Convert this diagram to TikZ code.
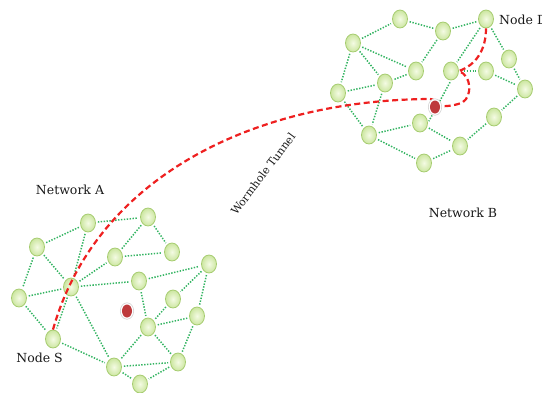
\documentclass[tikz,border=0pt]{standalone}
\usepackage{fontspec}
\setmainfont{DejaVu Serif}
\usetikzlibrary{shapes.geometric}
\definecolor{edgegreen}{HTML}{34B462}
\definecolor{nodein}{HTML}{F4FBE4}
\definecolor{nodeout}{HTML}{CCE6A0}
\definecolor{nodeborder}{HTML}{A6CC70}
\definecolor{wormred}{HTML}{EE2020}
\definecolor{dotred}{HTML}{BE3A3C}
\tikzset{
  nd/.style={ellipse, draw=nodeborder, line width=0.8pt, inner color=nodein, outer color=nodeout, minimum width=15pt, minimum height=18pt, inner sep=0pt},
  rdot/.style={ellipse, fill=dotred, minimum width=10pt, minimum height=13pt, inner sep=0pt,
    preaction={draw=black!18, line width=4pt}, preaction={draw=white, line width=2.6pt}},
  ed/.style={draw=edgegreen, line width=1.5pt, dash pattern=on 1.4pt off 1.5pt, shorten <=2pt, shorten >=2pt},
  wh/.style={draw=wormred, line width=2.2pt, dash pattern=on 6pt off 3.5pt},
  lbl/.style={font=\fontsize{12.5}{14}\selectfont, text=black!90, inner sep=0pt}
}
\begin{document}
\begin{tikzpicture}[x=1pt,y=-1pt]
\useasboundingbox (0,0) rectangle (542,392);
% Network A nodes
\node[nd] (A1) at (88,223) {};
\node[nd] (A2) at (148,217) {};
\node[nd] (A3) at (37,247) {};
\node[nd] (A4) at (115,257) {};
\node[nd] (A5) at (172,252) {};
\node[nd] (A6) at (71,287) {};
\node[nd] (A7) at (139,281) {};
\node[nd] (A8) at (209,264) {};
\node[nd] (A9) at (19,298) {};
\node[nd] (A10) at (173,299) {};
\node[nd] (A11) at (197,316) {};
\node[nd] (A12) at (148,327) {};
\node[nd] (S) at (53,339) {};
\node[nd] (A14) at (114,367) {};
\node[nd] (A15) at (178,362) {};
\node[nd] (A16) at (140,384) {};
% Network B nodes
\node[nd] (B1) at (400,19) {};
\node[nd] (D) at (486,19) {};
\node[nd] (B3) at (443,31) {};
\node[nd] (B4) at (353,43) {};
\node[nd] (B5) at (509,59) {};
\node[nd] (B6) at (416,71) {};
\node[nd] (B7) at (451,71) {};
\node[nd] (B8) at (486,71) {};
\node[nd] (B9) at (385,83) {};
\node[nd] (B10) at (338,93) {};
\node[nd] (B11) at (525,89) {};
\node[nd] (B13) at (420,123) {};
\node[nd] (B14) at (494,117) {};
\node[nd] (B15) at (369,135) {};
\node[nd] (B16) at (460,146) {};
\node[nd] (B17) at (424,163) {};
% Network A edges
\foreach \a/\b in {A3/A1, A1/A2, A3/A9, A3/A6, A1/A6, A9/A6, A9/S, A6/S, A2/A4, A2/A5, A4/A5, A6/A4, A6/A7, A7/A8, A8/A10, A10/A12, A7/A12, A8/A11, A12/A11, A11/A15, A12/A15, A12/A14, A14/A15, A6/A14, S/A14, A14/A16, A15/A16}
  \draw[ed] (\a) -- (\b);
% Network B edges
\foreach \a/\b in {B4/B1, B1/B3, B3/D, B4/B6, B4/B9, B4/B10, B3/B6, D/B7, D/B5, B6/B9, B10/B9, B9/B15, B10/B15, B7/B8, B8/B11, B5/B11, B11/B14, B14/B16, B13/B16, B15/B13, B15/B17, B17/B16}
  \draw[ed] (\a) -- (\b);
\draw[ed] (B7.south) -- (B13.east);
% wormhole path
\coordinate (wA) at (430,99);
\coordinate (wB) at (436,106);
\draw[wh] (S.north) .. controls (95,180) and (250,100) .. (wA)
  .. controls (434,99) and (436,102) .. (wB)
  .. controls (446,107) and (458,105) .. (463,102)
  .. controls (472,96) and (472,76) .. (B7.east)
  .. controls (476,65) and (486,50) .. (D.south);
% red dots
\node[rdot] (rA) at (127,311) {};
\node[rdot] (rB) at (435,107) {};
% labels
\node[lbl] (la) at (70,190) {Network A};
\node[lbl] (lb) at (463,213) {Network B};
\node[lbl, anchor=east] (ls) at (63,358) {Node S};
\node[lbl, anchor=west] (ld) at (499,20) {Node D};
\node[font=\fontsize{11}{12}\selectfont, text=black!90, rotate=53, inner sep=0pt] (lw) at (263,174) {Wormhole Tunnel};
\end{tikzpicture}
\end{document}
